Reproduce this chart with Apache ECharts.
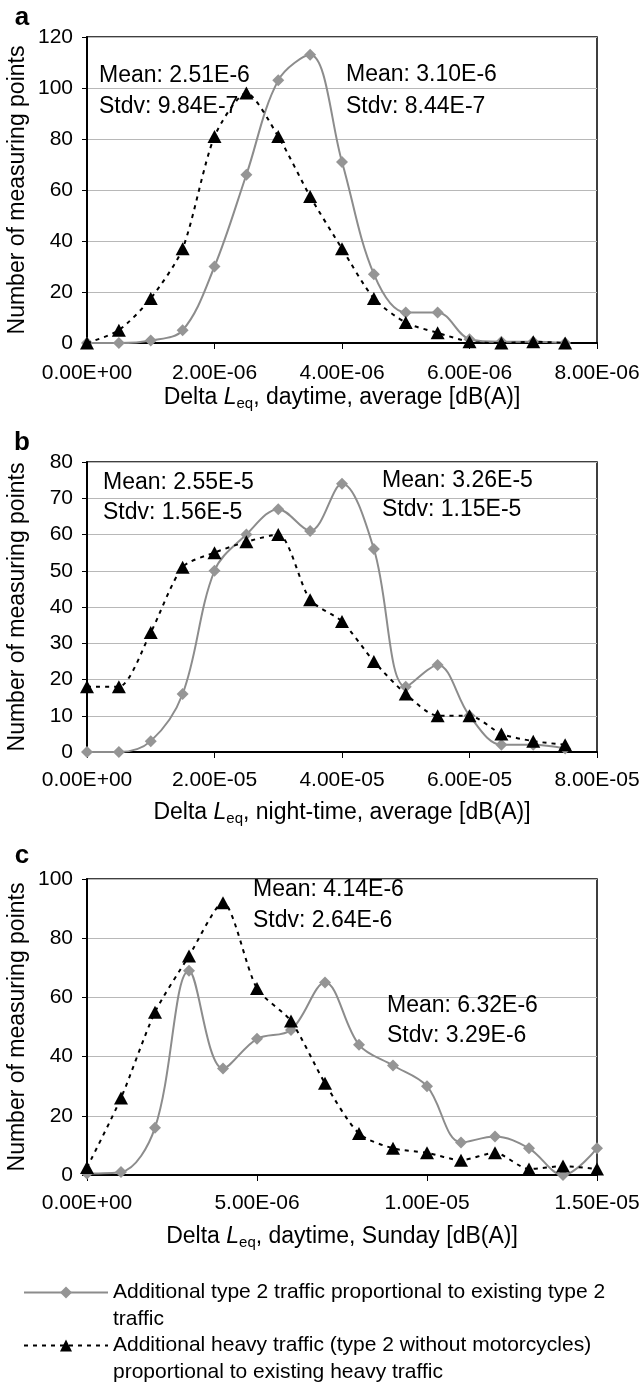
<!DOCTYPE html>
<html><head><meta charset="utf-8">
<script src="https://cdn.jsdelivr.net/npm/echarts/dist/echarts.min.js"></script>
<style>html,body{margin:0;padding:0;background:#fff}#c{width:643px;height:1382px}</style>
</head><body><div id="c"></div><script>
// ---- data ----
const xA = [0, 5e-7, 1e-6, 1.5e-6, 2e-6, 2.5e-6, 3e-6, 3.5e-6, 4e-6, 4.5e-6, 5e-6, 5.5e-6, 6e-6, 6.5e-6, 7e-6, 7.5e-6];
const grayA = [0, 0, 1, 5, 30, 66, 103, 113, 71, 27, 12, 12, 1.5, 0.5, 0.5, 0];
const blackA = [0, 5, 17.5, 37, 81, 98, 81, 57.5, 37, 17.5, 8, 4, 0.5, 0, 0.5, 0];

const xB = [0, 5e-6, 1e-5, 1.5e-5, 2e-5, 2.5e-5, 3e-5, 3.5e-5, 4e-5, 4.5e-5, 5e-5, 5.5e-5, 6e-5, 6.5e-5, 7e-5, 7.5e-5];
const grayB = [0, 0, 3, 16, 50, 60, 67, 61, 74, 56, 18, 24, 10, 2, 2, 1];
const blackB = [18, 18, 33, 51, 55, 58, 60, 42, 36, 25, 16, 10, 10, 5, 3, 2];

const xC = [0, 1e-6, 2e-6, 3e-6, 4e-6, 5e-6, 6e-6, 7e-6, 8e-6, 9e-6, 1e-5, 1.1e-5, 1.2e-5, 1.3e-5, 1.4e-5, 1.5e-5];
const grayC = [0.5, 1, 16, 69, 36, 46, 49, 65, 44, 37, 30, 11, 13, 9, 0, 9];
const blackC = [2.5, 26, 55, 74, 92, 63, 52, 31, 14, 9, 7.5, 5, 7.5, 2, 3, 2];

const panelLabels = ['a', 'b', 'c'];
const xTitles = ['daytime, average [dB(A)]', 'night-time, average [dB(A)]', 'daytime, Sunday [dB(A)]'];
const yTitle = 'Number of measuring points';
const xRanges = [[0, 8e-6, 2e-6], [0, 8e-5, 2e-5], [0, 1.5e-5, 5e-6]];
const yRanges = [[0, 120, 20], [0, 80, 10], [0, 100, 20]];
const statsLeft = [['Mean: 2.51E-6', 'Stdv: 9.84E-7'], ['Mean: 2.55E-5', 'Stdv: 1.56E-5'], ['Mean: 4.14E-6', 'Stdv: 2.64E-6']];
const statsRight = [['Mean: 3.10E-6', 'Stdv: 8.44E-7'], ['Mean: 3.26E-5', 'Stdv: 1.15E-5'], ['Mean: 6.32E-6', 'Stdv: 3.29E-6']];
const seriesNames = ['type2', 'heavy'];
const legendTexts = ['Additional type 2 traffic proportional to existing type 2\ntraffic',
                     'Additional heavy traffic (type 2 without motorcycles)\nproportional to existing heavy traffic'];

// ---- layout / style ----
const FF = '"Liberation Sans", Arial, sans-serif';
const FS = 23;      // titles / annotations
const FT = 21;      // tick labels
const FL = 21;      // legend
const grids = [
  {left: 87, top: 37, width: 510, height: 306},
  {left: 87, top: 462, width: 510, height: 290},
  {left: 87, top: 879, width: 510, height: 296}
];
const labelMargins = [20, 18, 18];
const nameGaps = [42, 48, 49];
const statPos = [
  [[99, 76, 107], [346, 75, 107]],
  [[103, 483, 513], [382, 481, 510]],
  [[253, 890, 921], [387, 1006, 1036]]
];
const panelLabelPos = [[22, 18], [22, 443], [22, 856]];

function fmtE(v) {
  const s = Number(v).toExponential(2);
  const parts = s.split('e');
  let ex = parseInt(parts[1], 10);
  const sign = ex < 0 ? '-' : '+';
  ex = Math.abs(ex);
  return parts[0] + 'E' + sign + (ex < 10 ? '0' + ex : '' + ex);
}

const xs = [xA, xB, xC];
const grays = [grayA, grayB, grayC];
const blacks = [blackA, blackB, blackC];

const xAxes = [], yAxes = [], series = [], graphics = [];
for (let i = 0; i < 3; i++) {
  xAxes.push({
    type: 'value', gridIndex: i, min: xRanges[i][0], max: xRanges[i][1], interval: xRanges[i][2],
    axisLine: {show: true, onZero: false, lineStyle: {color: '#000', width: 2}},
    axisTick: {show: true, length: 6, lineStyle: {color: '#000', width: 1}},
    splitLine: {show: false},
    axisLabel: {formatter: fmtE, color: '#000', fontSize: FT, fontFamily: FF, margin: labelMargins[i], showMinLabel: true, showMaxLabel: true, hideOverlap: false},
    name: '{n|Delta }{i|L}{s|eq}{n|, ' + xTitles[i] + '}',
    nameLocation: 'middle', nameGap: nameGaps[i], nameMoveOverlap: false,
    nameTextStyle: {
      color: '#000', fontSize: FS, fontFamily: FF,
      rich: {
        n: {fontSize: FS, fontFamily: FF, color: '#000', lineHeight: 26},
        i: {fontSize: FS, fontFamily: FF, color: '#000', lineHeight: 26, fontStyle: 'italic'},
        s: {fontSize: 15, fontFamily: FF, color: '#000', lineHeight: 15, verticalAlign: 'bottom'}
      }
    }
  });
  yAxes.push({
    type: 'value', gridIndex: i, min: yRanges[i][0], max: yRanges[i][1], interval: yRanges[i][2],
    axisLine: {show: true, lineStyle: {color: '#000', width: 2}},
    axisTick: {show: true, length: 5, lineStyle: {color: '#000', width: 1}},
    splitLine: {show: true, lineStyle: {color: '#b8b8b8', width: 1}},
    axisLabel: {color: '#000', fontSize: FT, fontFamily: FF, margin: 14},
    name: yTitle, nameLocation: 'middle', nameGap: 58, nameMoveOverlap: false,
    nameTextStyle: {color: '#000', fontSize: FS, fontFamily: FF}
  });
  series.push({
    type: 'line', name: seriesNames[0], xAxisIndex: i, yAxisIndex: i,
    data: xs[i].map((x, k) => [x, grays[i][k]]),
    smooth: 0.35, symbol: 'diamond', symbolSize: 12, clip: false,
    lineStyle: {color: '#8c8c8c', width: 2}, itemStyle: {color: '#959595'},
    emphasis: {disabled: true}, z: 2
  });
  series.push({
    type: 'line', name: seriesNames[1], xAxisIndex: i, yAxisIndex: i,
    data: xs[i].map((x, k) => [x, blacks[i][k]]),
    smooth: 0.25, symbol: 'triangle', symbolSize: [14, 13], clip: false,
    lineStyle: {color: '#000', width: 2, type: [4, 5]}, itemStyle: {color: '#000'},
    emphasis: {disabled: true}, z: 3
  });
  const sp = statPos[i];
  [[statsLeft[i], sp[0]], [statsRight[i], sp[1]]].forEach(([txt, p]) => {
    graphics.push({type: 'text', x: p[0], y: p[1], z: 10,
      style: {text: txt[0], font: FS + 'px ' + FF, fill: '#000', verticalAlign: 'middle'}});
    graphics.push({type: 'text', x: p[0], y: p[2], z: 10,
      style: {text: txt[1], font: FS + 'px ' + FF, fill: '#000', verticalAlign: 'middle'}});
  });
  graphics.push({type: 'text', x: panelLabelPos[i][0], y: panelLabelPos[i][1], z: 10,
    style: {text: panelLabels[i], font: 'bold 26px ' + FF, fill: '#000', align: 'center', verticalAlign: 'middle'}});
}

const legendBase = {
  orient: 'horizontal', left: 23, itemWidth: 84, itemHeight: 15, padding: 0, selectedMode: false,
  textStyle: {color: '#000', fontSize: FL, fontFamily: FF, lineHeight: 27}
};
const legends = [
  Object.assign({}, legendBase, {data: [seriesNames[0]], top: 1252, formatter: () => ' \n' + legendTexts[0]}),
  Object.assign({}, legendBase, {data: [seriesNames[1]], top: 1305, formatter: () => ' \n' + legendTexts[1]})
];

const chart = echarts.init(document.getElementById('c'), null, {renderer: 'canvas'});
chart.setOption({
  animation: false,
  backgroundColor: '#fff',
  grid: grids.map(g => Object.assign({show: true, borderColor: '#000', borderWidth: 1.5, backgroundColor: 'transparent', containLabel: false, outerBoundsMode: 'none'}, g)),
  xAxis: xAxes,
  yAxis: yAxes,
  series: series,
  legend: legends,
  graphic: graphics
});
</script></body></html>
